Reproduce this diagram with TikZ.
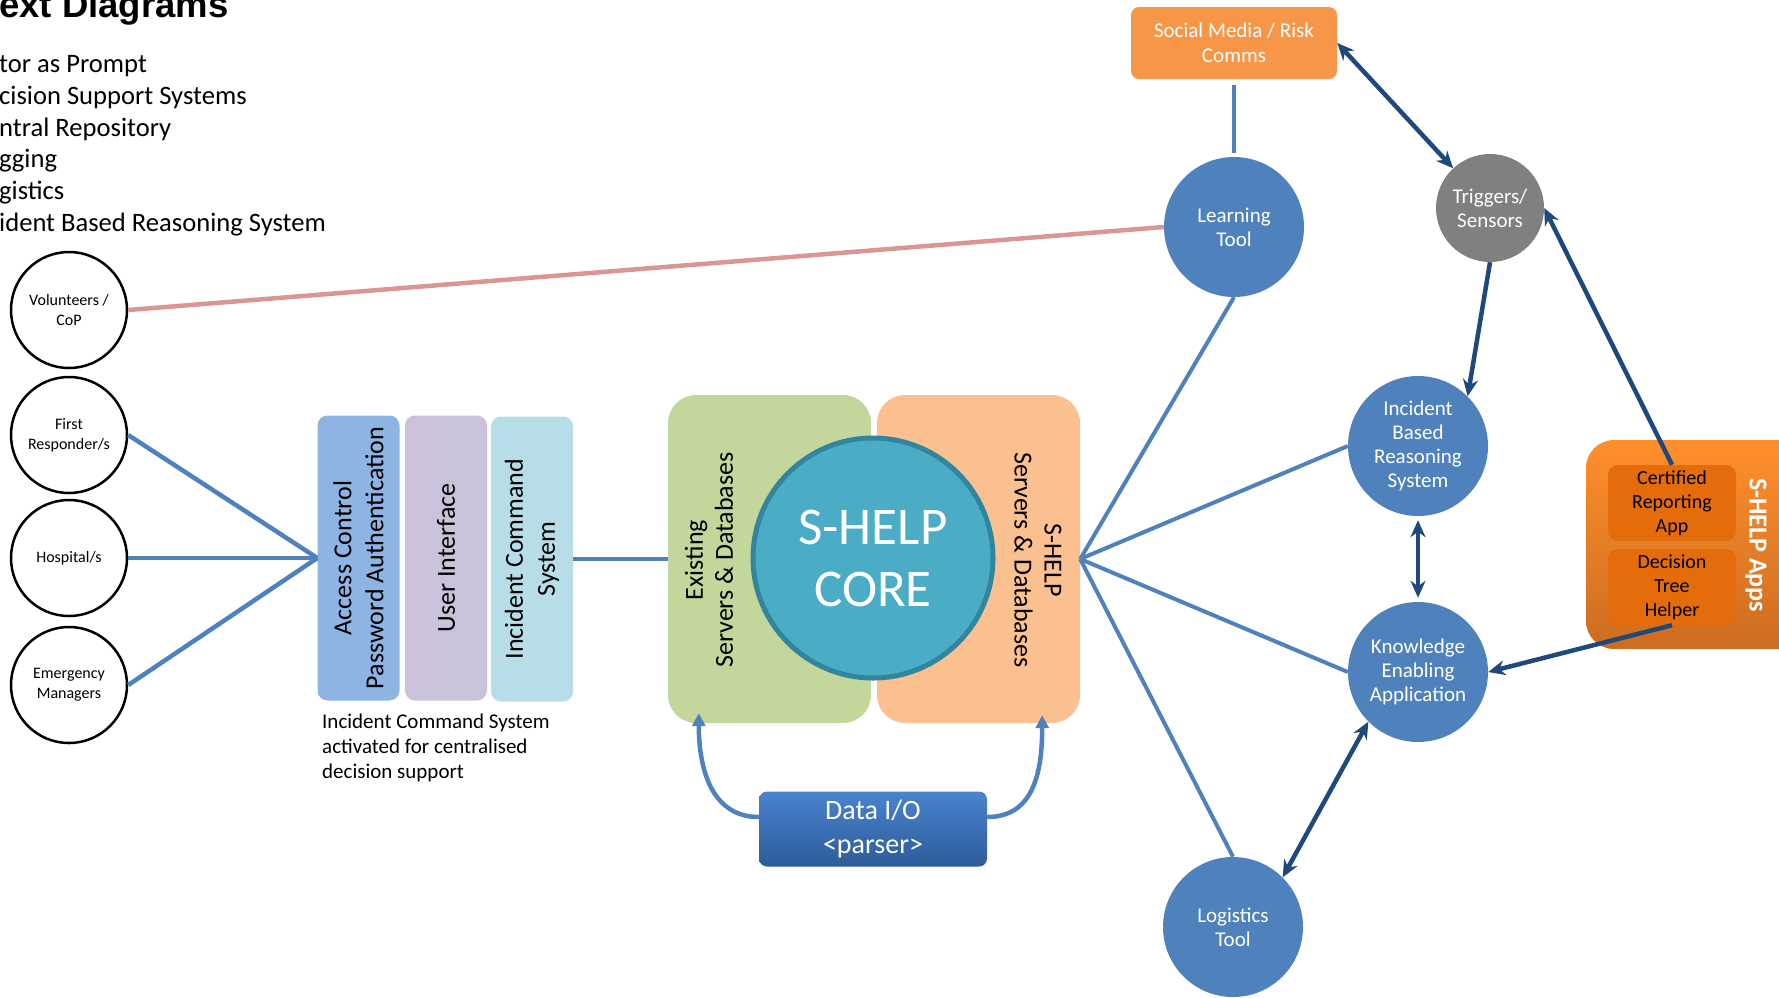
\documentclass[tikz,border=0pt]{standalone}
\usepackage{fontspec}
\setmainfont{Carlito}
\newfontfamily\titlefont{Liberation Sans}
\usetikzlibrary{arrows.meta}
\definecolor{nodeblue}{HTML}{4F81BD}
\definecolor{darkblue}{HTML}{1F497D}
\definecolor{pinkline}{HTML}{D99694}
\definecolor{accblue}{HTML}{8EB4E3}
\definecolor{uililac}{HTML}{CCC1DA}
\definecolor{icscyan}{HTML}{B7DEE8}
\definecolor{existgreen}{HTML}{C3D69B}
\definecolor{shelppeach}{HTML}{FAC090}
\definecolor{coreteal}{HTML}{4BACC6}
\definecolor{coreedge}{HTML}{31859C}
\definecolor{socialorange}{HTML}{F79646}
\definecolor{appdark}{HTML}{E46C0A}
\definecolor{appstop}{HTML}{FF8F2B}
\definecolor{appsbot}{HTML}{CC6C20}
\definecolor{diotop}{HTML}{4A83CF}
\definecolor{diobot}{HTML}{2D5C99}
\begin{document}
\begin{tikzpicture}[x=1pt,y=-1pt,
    person/.style={circle,draw=black,line width=2.5pt,fill=white,minimum size=116pt,inner sep=0pt,align=center,font=\fontsize{16}{20}\selectfont},
    bubble/.style={circle,fill=nodeblue,minimum size=140pt,inner sep=0pt,align=center,text=white,font=\fontsize{21}{24}\selectfont},
    layer/.style={rounded corners=10pt,rotate=90,minimum width=285pt,minimum height=82pt,inner sep=0pt,align=center,font=\fontsize{26}{32}\selectfont},
    appbox/.style={rounded corners=10pt,fill=appdark,minimum width=128pt,minimum height=76pt,inner sep=0pt,align=center,font=\fontsize{20}{24}\selectfont},
    listline/.style={anchor=base west,inner sep=0pt,font=\fontsize{26.6}{31}\selectfont},
    link/.style={draw=nodeblue,line width=4.5pt},
    flow/.style={draw=darkblue,line width=4.5pt},
    tip/.tip={Stealth[length=17pt,width=15pt]}]
\useasboundingbox (0,0) rectangle (1779,997);
\clip (0,0) rectangle (1779,997);

% heading and list
\node[anchor=base west,inner sep=0pt,font=\titlefont\bfseries\fontsize{36.5}{40}\selectfont] (title) at (-1,17) {ext Diagrams};
\node[listline] (l1) at (-1,72) {tor as Prompt};
\node[listline] (l2) at (-1,104) {cision Support Systems};
\node[listline] (l3) at (-1,136) {ntral Repository};
\node[listline] (l4) at (-1,167) {gging};
\node[listline] (l5) at (-1,199) {gistics};
\node[listline] (l6) at (-1,231) {ident Based Reasoning System};

% stakeholders
\node[person] (vol) at (69,310) {Volunteers /\\CoP};
\node[person] (fr) at (69,435) {First\\Responder/s};
\node[person] (hosp) at (69,558) {Hospital/s};
\node[person] (em) at (69,685) {Emergency\\Managers};

% front end layers
\node[layer,fill=accblue] (acc) at (358.5,558) {Access Control\\Password Authentication};
\node[layer,fill=uililac] (ui) at (446,558) {User Interface};
\node[layer,fill=icscyan] (ics) at (532,559) {Incident Command\\System};
\node[anchor=base west,inner sep=0pt,align=left,font=\fontsize{21}{25}\selectfont] (icsnote) at (322,778)
    {Incident Command System\\activated for centralised\\decision support};

% core
\node[rounded corners=28pt,fill=existgreen,minimum width=203pt,minimum height=328pt] (exist) at (769.5,559) {};
\node[rounded corners=28pt,fill=shelppeach,minimum width=203pt,minimum height=328pt] (shelp) at (978.5,559) {};
\node[rotate=90,align=center,font=\fontsize{26}{30}\selectfont] (existtxt) at (709,560) {Existing\\Servers \& Databases};
\node[rotate=-90,align=center,font=\fontsize{26}{30}\selectfont] (shelptxt) at (1038,560) {S-HELP\\Servers \& Databases};
\node[circle,fill=coreteal,draw=coreedge,line width=5pt,minimum size=240pt,align=center,text=white,font=\fontsize{53}{62}\selectfont] (core) at (873,558) {S-HELP\\CORE};
\node[rounded corners=8pt,top color=diotop,bottom color=diobot,minimum width=228pt,minimum height=75pt,align=center,text=white,font=\fontsize{28}{34}\selectfont] (dio) at (873,829) {Data I/O\\<parser>};

% tools
\node[rounded corners=8pt,fill=socialorange,minimum width=206pt,minimum height=72pt,align=center,text=white,font=\fontsize{21}{25}\selectfont] (social) at (1234,43) {Social Media / Risk\\Comms};
\node[bubble] (learn) at (1234,227) {Learning\\Tool};
\node[bubble,fill=black!50,minimum size=108pt] (trig) at (1490,208) {Triggers/\\Sensors};
\node[bubble] (ibrs) at (1418,446) {Incident\\Based\\Reasoning\\System};
\node[bubble] (kea) at (1418,672) {Knowledge\\Enabling\\Application};
\node[bubble] (logi) at (1233,927) {Logistics\\Tool};

% apps
\node[rounded corners=28pt,top color=appstop,bottom color=appsbot,minimum width=220pt,minimum height=209pt] (apps) at (1696,544.5) {};
\node[rotate=-90,text=white,font=\bfseries\fontsize{26}{30}\selectfont] (appstxt) at (1756,545) {S-HELP Apps};
\node[appbox] (cert) at (1672,503) {Certified\\Reporting\\App};
\node[appbox] (dth) at (1672,587) {Decision\\Tree\\Helper};

% connectors
\draw[pinkline,line width=4.5pt] (vol.east) -- (learn.west);
\draw[link] (fr.east) -- (acc.north);
\draw[link] (hosp.east) -- (acc.north);
\draw[link] (em.east) -- (acc.north);
\draw[link] (ics.south) -- (exist.west);
\draw[link,-{Triangle[length=13pt,width=13pt]}] ([yshift=12pt]dio.west) .. controls +(-45,0) and +(0,60) .. ([xshift=31pt,yshift=10pt]exist.south west);
\draw[link,-{Triangle[length=13pt,width=13pt]}] ([yshift=12pt]dio.east) .. controls +(45,0) and +(0,60) .. ([xshift=-38pt,yshift=8pt]shelp.south east);
\draw[link,line width=4pt] (shelp.east) -- (learn.south);
\draw[link,line width=4pt] (shelp.east) -- (ibrs.west);
\draw[link,line width=4pt] (shelp.east) -- (kea.west);
\draw[link,line width=4pt] (shelp.east) -- (logi.north);
\draw[link,shorten <=6pt,shorten >=4pt] (social.south) -- (learn.north);
\draw[flow,tip-tip] (social.east) -- (trig);
\draw[flow,-tip] (trig.south) -- (ibrs.45);
\draw[flow,-tip] (cert.north) -- (trig.east);
\draw[flow,tip-tip,shorten <=4pt,shorten >=4pt] (ibrs.south) -- (kea.north);
\draw[flow,-tip] (dth.south) -- (kea.east);
\draw[flow,tip-tip] (logi.45) -- (kea.225);
\end{tikzpicture}
\end{document}
